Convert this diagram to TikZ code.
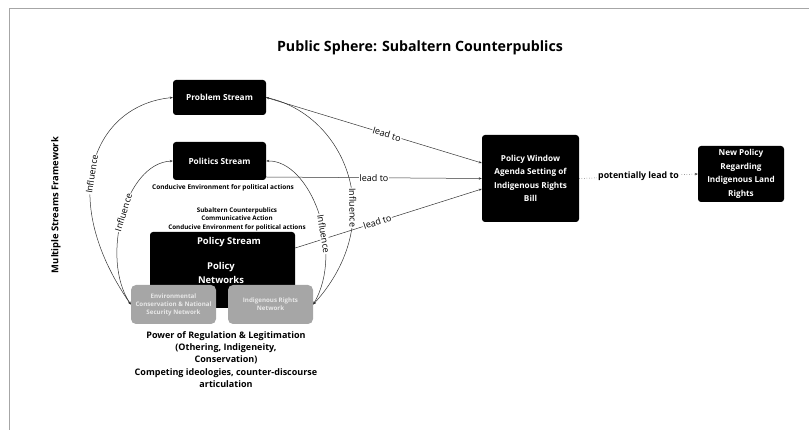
\documentclass[tikz,border=0pt]{standalone}
\usepackage{fontspec}
\setmainfont{Open Sans}
\usepackage{xcolor}
\usetikzlibrary{arrows.meta, positioning}

\definecolor{linegray}{HTML}{333333}
\definecolor{netgray}{HTML}{A6A6A6}
\definecolor{nettext}{HTML}{E8E8E8}

\newcommand{\fsz}[1]{\fontsize{#1}{#1}\selectfont}

\begin{document}
\begin{tikzpicture}[x=1pt, y=-1pt,
  streambox/.style={fill=black, text=white, rounded corners=3pt, inner sep=0pt,
    align=center, font=\bfseries\fsz{8.3}},
  netbox/.style={fill=netgray, text=nettext, rounded corners=5pt, inner sep=0pt,
    align=center, font=\bfseries\fontsize{6.2}{8}\selectfont,
    minimum width=85pt, minimum height=39pt},
  flow/.style={draw=linegray, line width=0.5pt, -{Stealth[length=3pt,width=2.4pt]}},
  infl/.style={draw=linegray, line width=0.5pt,
    {Stealth[length=3pt,width=2.4pt]}-{Stealth[length=3pt,width=2.4pt]}},
  edgelabel/.style={fill=white, inner sep=0.8pt, text=black, font=\fsz{9}}]
  \useasboundingbox (0,0) rectangle (809,430);
  % Frame
  \draw[gray!70, line width=0.6pt] (809,8) -- (9,8) -- (9,430);
  % Title and side label
  \node[font=\bfseries\fsz{14.2}] (title) at (420,48) {Public Sphere: Subaltern Counterpublics};
  \node[font=\bfseries\fsz{9.4}, rotate=90] (msf) at (56,205) {Multiple Streams Framework};
  % Streams
  \node[streambox, minimum width=93pt, minimum height=35pt] (prob) at (219.5,97.5) {Problem Stream};
  \node[streambox, minimum width=93pt, minimum height=38pt] (pol) at (219.5,161) {Politics Stream};
  \node[font=\bfseries\fsz{6.5}] (conduc) at (223,188) {Conducive Environment for political actions};
  \node[font=\bfseries\fontsize{6.3}{8.6}\selectfont, align=center] (subalt) at (237,219)
    {Subaltern Counterpublics\\Communicative Action\\Conducive Environment for political actions};
  \node[streambox, minimum width=145pt, minimum height=76pt] (pstream) at (222.5,270) {};
  \node[text=white, font=\bfseries\fsz{9.4}] (pstitle) at (229,242) {Policy Stream};
  \node[text=white, font=\bfseries\fontsize{9.4}{14}\selectfont, align=center] (psnet) at (221,273) {Policy\\Networks};
  % Policy networks
  \node[netbox] (gl) at (173.5,304.5) {Environmental\\Conservation \& National\\Security Network};
  \node[netbox] (gr) at (270.5,304.5) {Indigenous Rights\\Network};
  % Window and outcome
  \node[streambox, font=\bfseries\fontsize{8.2}{13.5}\selectfont, minimum width=97pt, minimum height=87pt] (pw) at (530.5,178.5)
    {Policy Window\\Agenda Setting of\\Indigenous Rights\\Bill};
  \node[streambox, font=\bfseries\fontsize{8.2}{13.5}\selectfont, minimum width=86pt, minimum height=56pt] (np) at (741,174)
    {New Policy\\Regarding\\Indigenous Land\\Rights};
  % Power text
  \node[font=\bfseries\fontsize{9}{12.2}\selectfont, align=center] (power) at (226,359.5)
    {Power of Regulation \& Legitimation\\(Othering, Indigeneity,\\Conservation)\\Competing ideologies, counter-discourse\\articulation};
  % lead to
  \draw[flow] (prob.east) -- node[edgelabel, sloped, pos=0.56] {lead to} ([yshift=15.5pt]pw.west);
  \draw[flow] ([yshift=-16pt]pol.east) -- node[edgelabel, pos=0.5] {lead to} (pw.west);
  \draw[flow] ([yshift=22pt]pstream.east) -- node[edgelabel, sloped, pos=0.44] {lead to} ([yshift=-10.5pt]pw.west);
  \draw[flow, dotted] (pw.east) -- node[edgelabel, font=\bfseries\fsz{8.8}] {potentially lead to} (np.west);
  % Influence
  \draw[infl] (prob.west) .. controls (95,105) and (55,195) .. node[edgelabel, sloped, pos=0.55] {Influence} (gl.west);
  \draw[infl] (pol.west) .. controls (125,163) and (100,258) .. node[edgelabel, sloped, pos=0.48] {Influence} (gl.west);
  \draw[infl] (prob.east) .. controls (345,115) and (390,220) .. node[edgelabel, sloped, pos=0.63] {Influence} (gr.east);
  \draw[infl] (pol.east) .. controls (310,160) and (345,250) .. node[edgelabel, sloped, pos=0.62] {Influence} (gr.east);
\end{tikzpicture}
\end{document}
